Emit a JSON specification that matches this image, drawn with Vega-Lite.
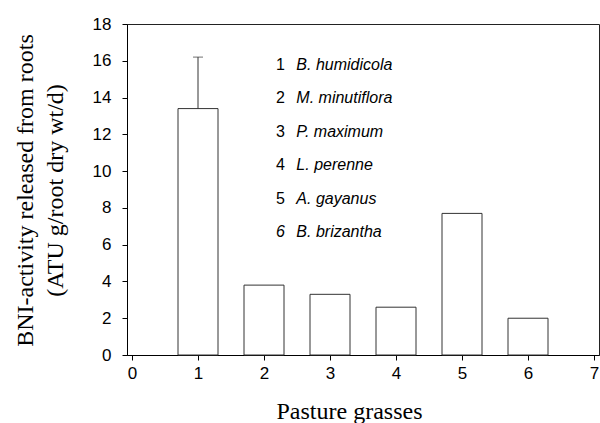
{
  "$schema": "https://vega.github.io/schema/vega-lite/v6.json",
  "width": 472,
  "height": 331,
  "autosize": {"type": "none"},
  "padding": {"left": 127, "top": 24, "right": 1, "bottom": 68},
  "background": "white",
  "config": {
    "view": {"stroke": "#222", "strokeWidth": 1},
    "axis": {
      "domainColor": "black",
      "tickColor": "black",
      "labelColor": "black",
      "titleColor": "black",
      "labelFont": "Liberation Sans",
      "labelFontSize": 17,
      "labelOverlap": false,
      "labelFlush": false,
      "format": "d",
      "titleFont": "Liberation Serif",
      "titleFontSize": 24,
      "titleFontWeight": "normal",
      "grid": false,
      "tickSize": 5
    }
  },
  "datasets": {
    "bars": [
      {"grass": 1, "activity": 13.4, "upper": 16.2},
      {"grass": 2, "activity": 3.8, "upper": null},
      {"grass": 3, "activity": 3.3, "upper": null},
      {"grass": 4, "activity": 2.6, "upper": null},
      {"grass": 5, "activity": 7.7, "upper": null},
      {"grass": 6, "activity": 2.0, "upper": null}
    ],
    "key": [
      {"id": 1, "num": "1", "species": "B. humidicola"},
      {"id": 2, "num": "2", "species": "M. minutiflora"},
      {"id": 3, "num": "3", "species": "P. maximum"},
      {"id": 4, "num": "4", "species": "L. perenne"},
      {"id": 5, "num": "5", "species": "A. gayanus"},
      {"id": 6, "num": "6", "species": "B. brizantha"}
    ]
  },
  "resolve": {"scale": {"y": "independent"}},
  "layer": [
    {
      "data": {"name": "bars"},
      "layer": [
        {
          "mark": {"type": "bar", "width": 40, "fill": "white", "stroke": "#333", "strokeWidth": 1},
          "encoding": {
            "x": {
              "field": "grass", "type": "quantitative",
              "scale": {"domain": [0, 7], "nice": false},
              "axis": {"values": [0, 1, 2, 3, 4, 5, 6, 7], "title": "Pasture grasses", "labelPadding": 5,
                "titleX": 222, "titleY": 63, "titleAlign": "center", "titleBaseline": "alphabetic"}
            },
            "y": {
              "field": "activity", "type": "quantitative",
              "scale": {"domain": [0, 18], "nice": false},
              "axis": {"values": [0, 2, 4, 6, 8, 10, 12, 14, 16, 18], "labelPadding": 11,
                "title": ["BNI-activity released from roots", "(ATU g/root dry wt/d)"],
                "titleLineHeight": 30, "titleX": -114, "titleY": 166, "titleAngle": -90,
                "titleAlign": "center", "titleBaseline": "top"}
            }
          }
        },
        {
          "transform": [{"filter": "isValid(datum.upper)"}],
          "mark": {"type": "rule", "color": "#333", "strokeWidth": 1},
          "encoding": {
            "x": {
              "field": "grass", "type": "quantitative",
              "scale": {"domain": [0, 7], "nice": false},
              "axis": {"values": [0, 1, 2, 3, 4, 5, 6, 7], "title": "Pasture grasses", "labelPadding": 5,
                "titleX": 222, "titleY": 63, "titleAlign": "center", "titleBaseline": "alphabetic"}
            },
            "y": {
              "field": "activity", "type": "quantitative",
              "scale": {"domain": [0, 18], "nice": false},
              "axis": {"values": [0, 2, 4, 6, 8, 10, 12, 14, 16, 18], "labelPadding": 11,
                "title": ["BNI-activity released from roots", "(ATU g/root dry wt/d)"],
                "titleLineHeight": 30, "titleX": -114, "titleY": 166, "titleAngle": -90,
                "titleAlign": "center", "titleBaseline": "top"}
            },
            "y2": {"field": "upper"}
          }
        },
        {
          "transform": [{"filter": "isValid(datum.upper)"}],
          "mark": {"type": "tick", "orient": "horizontal", "size": 10, "thickness": 1, "color": "#333"},
          "encoding": {
            "x": {
              "field": "grass", "type": "quantitative",
              "scale": {"domain": [0, 7], "nice": false},
              "axis": {"values": [0, 1, 2, 3, 4, 5, 6, 7], "title": "Pasture grasses", "labelPadding": 5,
                "titleX": 222, "titleY": 63, "titleAlign": "center", "titleBaseline": "alphabetic"}
            },
            "y": {
              "field": "upper", "type": "quantitative",
              "scale": {"domain": [0, 18], "nice": false},
              "axis": {"values": [0, 2, 4, 6, 8, 10, 12, 14, 16, 18], "labelPadding": 11,
                "title": ["BNI-activity released from roots", "(ATU g/root dry wt/d)"],
                "titleLineHeight": 30, "titleX": -114, "titleY": 166, "titleAngle": -90,
                "titleAlign": "center", "titleBaseline": "top"}
            }
          }
        }
      ]
    },
    {
      "data": {"name": "key"},
      "encoding": {
        "y": {"field": "id", "type": "quantitative", "scale": {"domain": [-0.23, 9.68], "reverse": true, "nice": false, "zero": false}, "axis": null}
      },
      "layer": [
        {
          "transform": [{"filter": "datum.id < 6"}],
          "mark": {"type": "text", "font": "Liberation Sans", "fontSize": 16, "align": "center", "baseline": "middle", "color": "black"},
          "encoding": {"x": {"datum": 2.25, "type": "quantitative"}, "text": {"field": "num"}}
        },
        {
          "transform": [{"filter": "datum.id == 6"}],
          "mark": {"type": "text", "font": "Liberation Sans", "fontSize": 16, "fontStyle": "italic", "align": "center", "baseline": "middle", "color": "black"},
          "encoding": {"x": {"datum": 2.25, "type": "quantitative"}, "text": {"field": "num"}}
        },
        {
          "mark": {"type": "text", "font": "Liberation Sans", "fontSize": 16, "fontStyle": "italic", "align": "left", "baseline": "middle", "color": "black"},
          "encoding": {"x": {"datum": 2.49, "type": "quantitative"}, "text": {"field": "species"}}
        }
      ]
    }
  ]
}
